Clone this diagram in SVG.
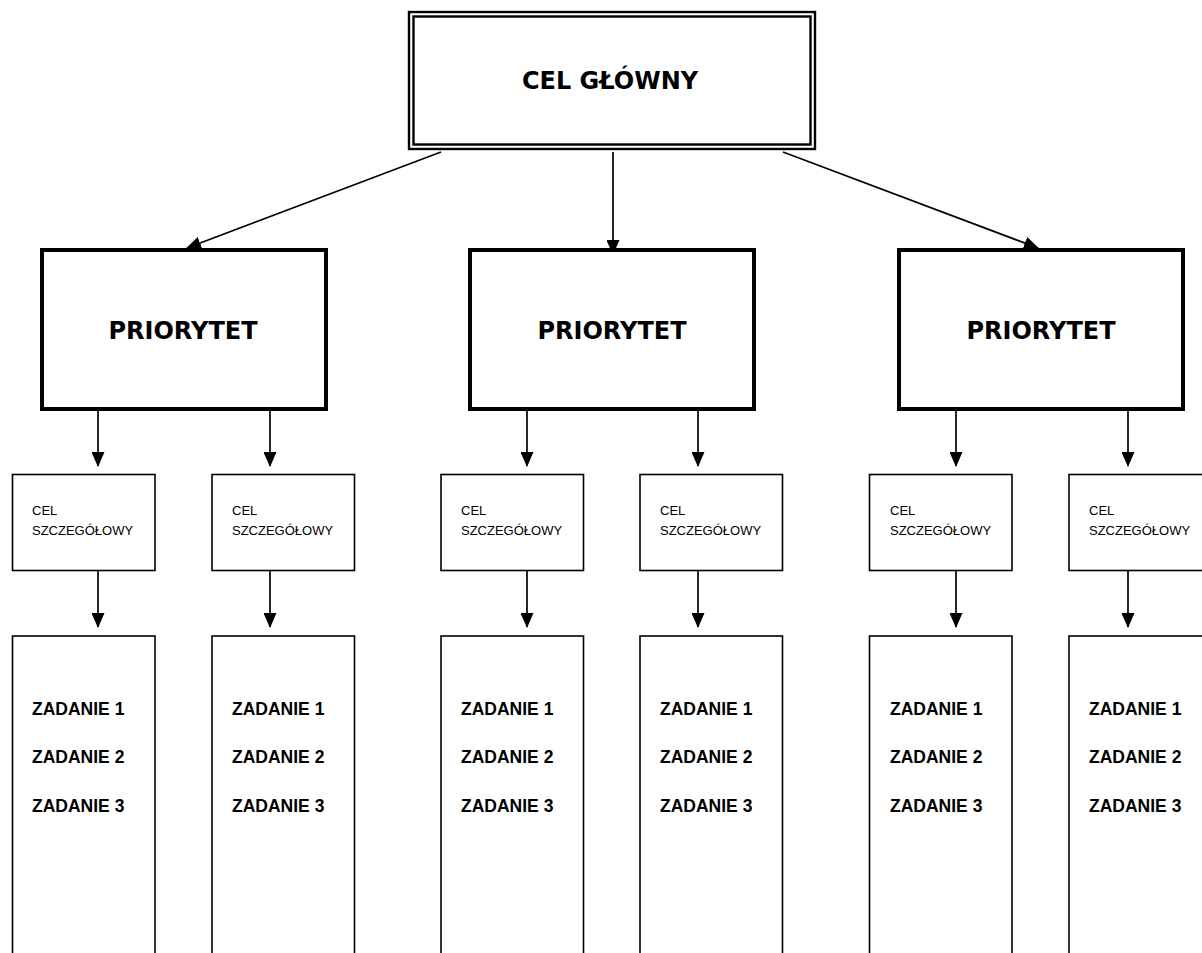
<svg xmlns="http://www.w3.org/2000/svg" width="1202" height="953" viewBox="0 0 1202 953">
<style>
.bg{fill:#fff}
.main{fill:none;stroke:#000;stroke-width:2.4}
.prio{fill:#fff;stroke:#000;stroke-width:4}
.box{fill:#fff;stroke:#000;stroke-width:1.6}
.hd{font-family:"DejaVu Sans",Verdana,sans-serif;font-weight:bold;font-size:24px;text-anchor:middle;fill:#000}
.cel{font-family:"Liberation Sans",Arial,sans-serif;font-size:13px;fill:#000}
.zad{font-family:"Liberation Sans",Arial,sans-serif;font-weight:bold;font-size:17.5px;fill:#000}
.ln{stroke:#000;stroke-width:1.7;fill:none;marker-end:url(#ah)}
</style>
<defs>
<marker id="ah" viewBox="0 0 15 13" refX="14" refY="6.5" markerWidth="15" markerHeight="13" orient="auto" markerUnits="userSpaceOnUse">
<path d="M0,0 L15,6.5 L0,13 z" fill="#000"/>
</marker>
</defs>
<rect class="bg" x="0" y="0" width="1202" height="953"/>

<g id="connectors">
<line class="ln" x1="441" y1="152" x2="187" y2="248"/>
<line class="ln" x1="613" y1="152" x2="613" y2="254"/>
<line class="ln" x1="783" y1="152" x2="1038" y2="248"/>

<line class="ln" x1="98" y1="411" x2="98" y2="466"/>
<line class="ln" x1="270" y1="411" x2="270" y2="466"/>
<line class="ln" x1="527" y1="411" x2="527" y2="466"/>
<line class="ln" x1="698" y1="411" x2="698" y2="466"/>
<line class="ln" x1="956" y1="411" x2="956" y2="466"/>
<line class="ln" x1="1128" y1="411" x2="1128" y2="466"/>

<line class="ln" x1="98" y1="571" x2="98" y2="627"/>
<line class="ln" x1="270" y1="571" x2="270" y2="627"/>
<line class="ln" x1="527" y1="571" x2="527" y2="627"/>
<line class="ln" x1="698" y1="571" x2="698" y2="627"/>
<line class="ln" x1="956" y1="571" x2="956" y2="627"/>
<line class="ln" x1="1128" y1="571" x2="1128" y2="627"/>
</g>

<g id="cel-glowny">
<rect class="main" x="409" y="12" width="406" height="137"/>
<rect class="main" x="413.5" y="16.5" width="397" height="128"/>
<text class="hd" x="610" y="89">CEL GŁÓWNY</text>
</g>

<g id="priorytet-1">
<rect class="prio" x="42" y="250" width="284" height="159"/>
<text class="hd" x="183" y="339">PRIORYTET</text>
</g>
<g id="priorytet-2">
<rect class="prio" x="470" y="250" width="284" height="159"/>
<text class="hd" x="612" y="339">PRIORYTET</text>
</g>
<g id="priorytet-3">
<rect class="prio" x="899" y="250" width="284" height="159"/>
<text class="hd" x="1041" y="339">PRIORYTET</text>
</g>

<g id="cel-1"><rect class="box" x="12.5" y="474.5" width="142.5" height="96"/><text class="cel" x="32" y="515">CEL</text><text class="cel" x="32" y="535">SZCZEGÓŁOWY</text></g>
<g id="cel-2"><rect class="box" x="212" y="474.5" width="142.5" height="96"/><text class="cel" x="232" y="515">CEL</text><text class="cel" x="232" y="535">SZCZEGÓŁOWY</text></g>
<g id="cel-3"><rect class="box" x="441" y="474.5" width="142.5" height="96"/><text class="cel" x="461" y="515">CEL</text><text class="cel" x="461" y="535">SZCZEGÓŁOWY</text></g>
<g id="cel-4"><rect class="box" x="640" y="474.5" width="142.5" height="96"/><text class="cel" x="660" y="515">CEL</text><text class="cel" x="660" y="535">SZCZEGÓŁOWY</text></g>
<g id="cel-5"><rect class="box" x="869.5" y="474.5" width="142.5" height="96"/><text class="cel" x="890" y="515">CEL</text><text class="cel" x="890" y="535">SZCZEGÓŁOWY</text></g>
<g id="cel-6"><rect class="box" x="1069" y="474.5" width="142.5" height="96"/><text class="cel" x="1089" y="515">CEL</text><text class="cel" x="1089" y="535">SZCZEGÓŁOWY</text></g>

<g id="zad-1"><rect class="box" x="12.5" y="636" width="142.5" height="340"/><text class="zad" x="32" y="715">ZADANIE 1</text><text class="zad" x="32" y="763">ZADANIE 2</text><text class="zad" x="32" y="812">ZADANIE 3</text></g>
<g id="zad-2"><rect class="box" x="212" y="636" width="142.5" height="340"/><text class="zad" x="232" y="715">ZADANIE 1</text><text class="zad" x="232" y="763">ZADANIE 2</text><text class="zad" x="232" y="812">ZADANIE 3</text></g>
<g id="zad-3"><rect class="box" x="441" y="636" width="142.5" height="340"/><text class="zad" x="461" y="715">ZADANIE 1</text><text class="zad" x="461" y="763">ZADANIE 2</text><text class="zad" x="461" y="812">ZADANIE 3</text></g>
<g id="zad-4"><rect class="box" x="640" y="636" width="142.5" height="340"/><text class="zad" x="660" y="715">ZADANIE 1</text><text class="zad" x="660" y="763">ZADANIE 2</text><text class="zad" x="660" y="812">ZADANIE 3</text></g>
<g id="zad-5"><rect class="box" x="869.5" y="636" width="142.5" height="340"/><text class="zad" x="890" y="715">ZADANIE 1</text><text class="zad" x="890" y="763">ZADANIE 2</text><text class="zad" x="890" y="812">ZADANIE 3</text></g>
<g id="zad-6"><rect class="box" x="1069" y="636" width="142.5" height="340"/><text class="zad" x="1089" y="715">ZADANIE 1</text><text class="zad" x="1089" y="763">ZADANIE 2</text><text class="zad" x="1089" y="812">ZADANIE 3</text></g>
</svg>
